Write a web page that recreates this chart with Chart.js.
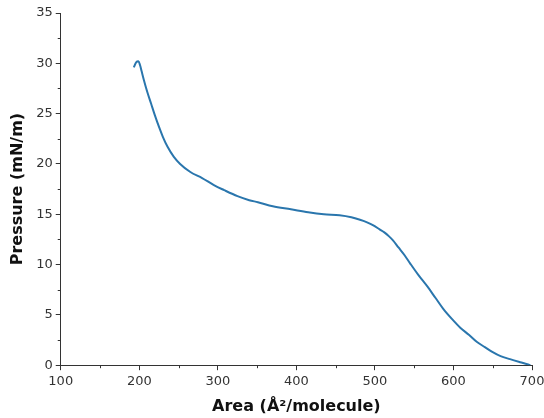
<!DOCTYPE html>
<html>
<head>
<meta charset="utf-8">
<script src="https://cdn.jsdelivr.net/npm/chart.js@4"></script>
<style>
html,body{margin:0;padding:0;background:#fff;}
#wrap{width:544px;height:418px;}
</style>
</head>
<body>
<div id="wrap"><canvas id="c" width="544" height="418"></canvas></div>
<script>
const areas = [193,196,199,201,203,206,210,215,220,225,230,236,244,252,265,280,295,308,325,340,351,370,393,415,435,455,470,481,490,498,506,512,518,523,530,538,545,555,567,577,587,598,609,620,630,640,650,660,672,685,694,698];
const pressures = [29.6,30.1,30.2,29.8,29.2,28.3,27.2,26.0,24.8,23.7,22.7,21.7,20.7,20.0,19.2,18.6,17.9,17.4,16.8,16.4,16.2,15.8,15.5,15.2,15.0,14.9,14.7,14.45,14.2,13.9,13.5,13.2,12.8,12.4,11.7,10.9,10.1,9.0,7.8,6.7,5.6,4.6,3.7,3.0,2.3,1.8,1.3,0.9,0.6,0.3,0.1,0.0];
const xTitle = 'Area (Å²/molecule)';
const yTitle = 'Pressure (mN/m)';
const xMin = 100, xMax = 700, xMajor = 100, xMinor = 50;
const yMin = 0, yMax = 35, yMajor = 5, yMinor = 2.5;

const points = areas.map((a,i)=>({x:a,y:pressures[i]}));
const axisColor = '#333333';
const font = {family:'DejaVu Sans', size:13};

const minorTicks = {
  id:'minorTicks',
  afterDraw(chart){
    const ctx = chart.ctx;
    const xs = chart.scales.x, ys = chart.scales.y;
    ctx.save();
    ctx.strokeStyle = axisColor;
    ctx.lineWidth = 1;
    ctx.beginPath();
    for(let v = xMin; v <= xMax + 1e-9; v += xMinor){
      if (Math.abs(v/xMajor - Math.round(v/xMajor)) < 1e-6) continue;
      const px = Math.round(xs.getPixelForValue(v)) + 0.5;
      ctx.moveTo(px, ys.bottom);
      ctx.lineTo(px, ys.bottom + 3);
    }
    for(let v = yMin; v <= yMax + 1e-9; v += yMinor){
      if (Math.abs(v/yMajor - Math.round(v/yMajor)) < 1e-6) continue;
      const py = Math.round(ys.getPixelForValue(v)) + 0.5;
      ctx.moveTo(xs.left, py);
      ctx.lineTo(xs.left - 3, py);
    }
    ctx.stroke();
    ctx.restore();
  }
};

new Chart(document.getElementById('c'), {
  type:'scatter',
  data:{datasets:[{
    data:points,
    showLine:true,
    borderColor:'#2a76ad',
    borderWidth:2,
    pointRadius:0,
    cubicInterpolationMode:'monotone',
    fill:false
  }]},
  options:{
    responsive:false,
    animation:false,
    layout:{padding:{left:8,right:0,top:13,bottom:2}},
    plugins:{legend:{display:false},tooltip:{enabled:false}},
    scales:{
      x:{
        type:'linear', min:xMin, max:xMax,
        afterFit(s){ s.paddingRight = 12; },
        ticks:{stepSize:xMajor, color:axisColor, font:font, padding:4, maxRotation:0},
        grid:{drawOnChartArea:false, drawTicks:true, tickLength:5, tickColor:axisColor},
        border:{color:axisColor, width:1},
        title:{display:true, text:xTitle, color:'#111', font:{family:'DejaVu Sans', size:16, weight:'bold'}, padding:{top:3,bottom:0}}
      },
      y:{
        type:'linear', min:yMin, max:yMax,
        ticks:{stepSize:yMajor, color:axisColor, font:font, padding:3},
        grid:{drawOnChartArea:false, drawTicks:true, tickLength:5, tickColor:axisColor},
        border:{color:axisColor, width:1},
        title:{display:true, text:yTitle, color:'#111', font:{family:'DejaVu Sans', size:16, weight:'bold'}, padding:{top:0,bottom:6}}
      }
    }
  },
  plugins:[minorTicks]
});
</script>
</body>
</html>
